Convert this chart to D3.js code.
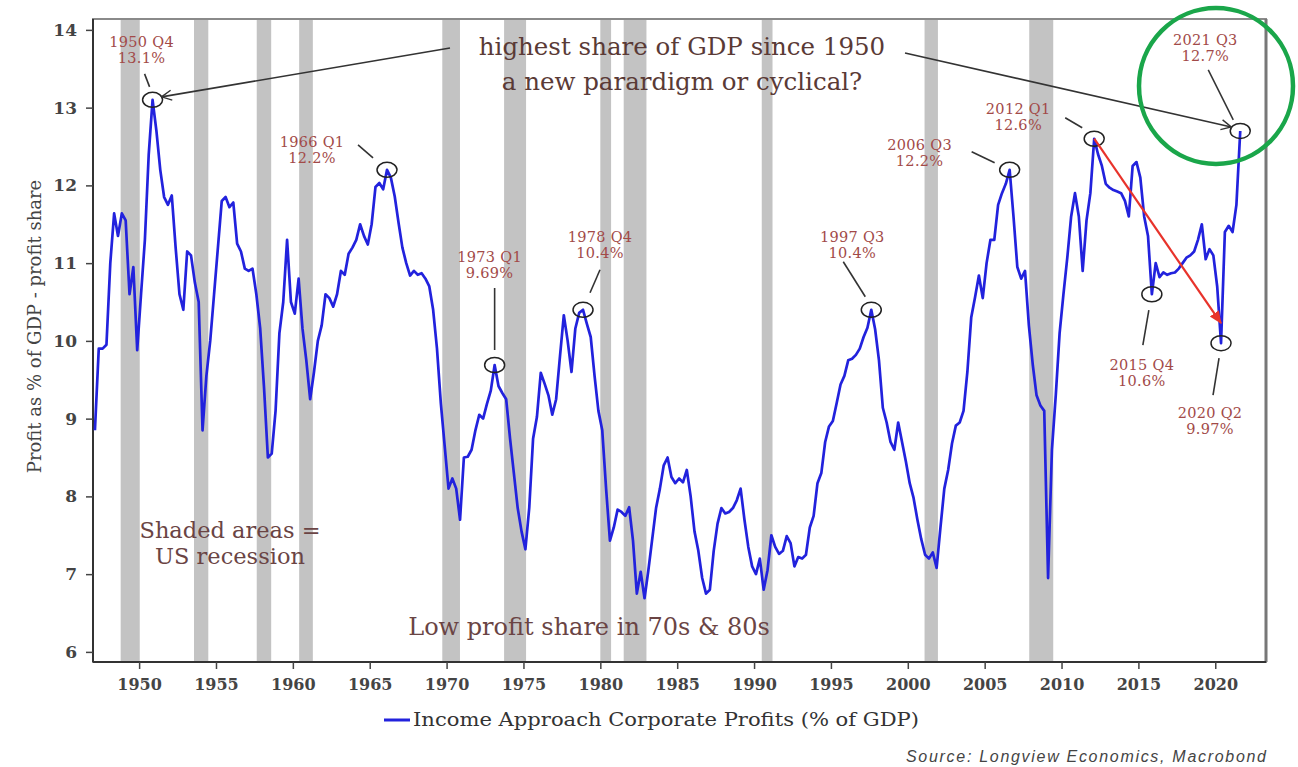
<!DOCTYPE html>
<html>
<head>
<meta charset="utf-8">
<script src="https://cdn.jsdelivr.net/npm/d3@7"></script>
<style>
  body { margin: 0; background: #fff; }
  svg { display: block; }
</style>
</head>
<body>
<svg id="chart" width="1298" height="767"></svg>
<script>
// Quarterly corporate profits (income approach) as % of GDP, from 1947 Q1
const startYear = 1947;
const profitShare = [
  8.85, 9.9, 9.9, 9.95,        // 1947
  11.0, 11.64, 11.35, 11.64,   // 1948
  11.55, 10.6, 10.95, 9.88,    // 1949
  10.6, 11.3, 12.4, 13.1,      // 1950
  12.7, 12.2, 11.85, 11.75,    // 1951
  11.87, 11.2, 10.6, 10.4,     // 1952
  11.15, 11.1, 10.75, 10.5,    // 1953
  8.85, 9.55, 10.0, 10.6,      // 1954
  11.2, 11.8, 11.85, 11.72,    // 1955
  11.78, 11.25, 11.15, 10.93,  // 1956
  10.9, 10.93, 10.6, 10.16,    // 1957
  9.4, 8.5, 8.55, 9.1,         // 1958
  10.1, 10.5, 11.3, 10.5,      // 1959
  10.35, 10.8, 10.16, 9.75,    // 1960
  9.25, 9.6, 10.0, 10.2,       // 1961
  10.6, 10.55, 10.44, 10.6,    // 1962
  10.9, 10.85, 11.12, 11.2,    // 1963
  11.3, 11.5, 11.35, 11.24,    // 1964
  11.5, 11.98, 12.03, 11.95,   // 1965
  12.2, 12.1, 11.86, 11.52,    // 1966
  11.2, 11.0, 10.84, 10.9,     // 1967
  10.85, 10.87, 10.8, 10.7,    // 1968
  10.4, 9.9, 9.2, 8.65,        // 1969
  8.1, 8.23, 8.1, 7.7,         // 1970
  8.5, 8.51, 8.6, 8.85,        // 1971
  9.05, 9.0, 9.19, 9.36,       // 1972
  9.69, 9.42, 9.33, 9.25,      // 1973
  8.75, 8.3, 7.85, 7.55,       // 1974
  7.32, 7.85, 8.74, 9.02,      // 1975
  9.59, 9.45, 9.3, 9.05,       // 1976
  9.25, 9.8, 10.33, 10.0,      // 1977
  9.6, 10.16, 10.36, 10.4,     // 1978
  10.22, 10.05, 9.55, 9.1,     // 1979
  8.85, 8.1, 7.43, 7.6,        // 1980
  7.83, 7.8, 7.75, 7.86,       // 1981
  7.43, 6.75, 7.03, 6.69,      // 1982
  7.05, 7.45, 7.85, 8.1,       // 1983
  8.4, 8.5, 8.25, 8.17,        // 1984
  8.23, 8.18, 8.34, 8.0,       // 1985
  7.55, 7.3, 6.95, 6.75,       // 1986
  6.8, 7.3, 7.65, 7.85,        // 1987
  7.78, 7.8, 7.85, 7.95,       // 1988
  8.1, 7.7, 7.35, 7.1,         // 1989
  7.0, 7.2, 6.8, 7.05,         // 1990
  7.5, 7.35, 7.26, 7.3,        // 1991
  7.49, 7.4, 7.1, 7.22,        // 1992
  7.2, 7.25, 7.6, 7.75,        // 1993
  8.17, 8.3, 8.7, 8.9,         // 1994
  8.97, 9.2, 9.44, 9.55,       // 1995
  9.75, 9.77, 9.82, 9.9,       // 1996
  10.05, 10.17, 10.4, 10.15,   // 1997
  9.75, 9.14, 8.95, 8.7,       // 1998
  8.6, 8.95, 8.7, 8.45,        // 1999
  8.17, 7.98, 7.7, 7.45,       // 2000
  7.25, 7.2, 7.28, 7.08,       // 2001
  7.6, 8.1, 8.34, 8.68,        // 2002
  8.91, 8.95, 9.1, 9.6,        // 2003
  10.3, 10.56, 10.84, 10.55,   // 2004
  11.0, 11.3, 11.3, 11.75,     // 2005
  11.9, 12.02, 12.2, 11.6,     // 2006
  10.95, 10.8, 10.9, 10.2,     // 2007
  9.7, 9.3, 9.17, 9.1,         // 2008
  6.95, 8.6, 9.3, 10.1,        // 2009
  10.6, 11.07, 11.6, 11.9,     // 2010
  11.6, 10.9, 11.55, 11.9,     // 2011
  12.6, 12.4, 12.25, 12.02,    // 2012
  11.97, 11.94, 11.92, 11.9,   // 2013
  11.8, 11.6, 12.25, 12.3,     // 2014
  12.1, 11.6, 11.35, 10.6,     // 2015
  11.0, 10.82, 10.88, 10.85,   // 2016
  10.87, 10.88, 10.93, 11.0,   // 2017
  11.07, 11.1, 11.15, 11.3,    // 2018
  11.5, 11.05, 11.18, 11.1,    // 2019
  10.7, 9.97, 11.4, 11.48,     // 2020
  11.4, 11.75, 12.7            // 2021
];

// US recessions (start, end) in fractional years
const recessions = [
  [1948.8, 1950.04], [1953.57, 1954.5], [1957.65, 1958.59], [1960.41, 1961.3],
  [1969.72, 1970.87], [1973.74, 1975.17], [1980.0, 1980.7], [1981.52, 1983.0],
  [1990.5, 1991.2], [2001.09, 2001.96], [2007.9, 2009.46]
];

const yTicks = [6, 7, 8, 9, 10, 11, 12, 13, 14];
const xTicks = [1950, 1955, 1960, 1965, 1970, 1975, 1980, 1985, 1990, 1995, 2000, 2005, 2010, 2015, 2020];

// Labelled turning points: [year, quarter, value label]
const callouts = [
  [1950, 4, "13.1%"],
  [1966, 1, "12.2%"],
  [1973, 1, "9.69%"],
  [1978, 4, "10.4%"],
  [1997, 3, "10.4%"],
  [2006, 3, "12.2%"],
  [2012, 1, "12.6%"],
  [2015, 4, "10.6%"],
  [2020, 2, "9.97%"],
  [2021, 3, "12.7%"]
];

const headline = ["highest share of GDP since 1950", "a new parardigm or cyclical?"];
const shadedNote = ["Shaded areas =", "US recession"];
const lowNote = "Low profit share in 70s & 80s";
const seriesName = "Income Approach Corporate Profits (% of GDP)";
const yTitle = "Profit as % of GDP - profit share";
const sourceNote = "Source: Longview Economics, Macrobond";

// ---- layout ----
const plot = { left: 93, right: 1266, top: 19, bottom: 662 };
const serif = "'DejaVu Serif', serif";
const noteColor = "#6a4444";
const calloutColor = "#a24a48";

const x = d3.scaleLinear().domain([1947, 2023.3]).range([plot.left, plot.right]);
const y = d3.scaleLinear().domain([5.87, 14.14]).range([plot.bottom, plot.top]);

const data = profitShare.map((v, i) => ({ t: startYear + i / 4 + 0.125, v }));
const pointFor = (yr, q) => data[(yr - startYear) * 4 + (q - 1)];

const svg = d3.select("#chart");

const defs = svg.append("defs");
defs.append("marker").attr("id", "openHead")
  .attr("viewBox", "0 0 12 12").attr("refX", 11).attr("refY", 6)
  .attr("markerWidth", 12).attr("markerHeight", 12).attr("markerUnits", "userSpaceOnUse")
  .attr("orient", "auto")
  .append("path").attr("d", "M1,1 L11,6 L1,11").attr("fill", "none")
  .attr("stroke", "#333").attr("stroke-width", 1.4);
defs.append("marker").attr("id", "redHead")
  .attr("viewBox", "0 0 12 12").attr("refX", 11).attr("refY", 6)
  .attr("markerWidth", 13).attr("markerHeight", 13).attr("markerUnits", "userSpaceOnUse")
  .attr("orient", "auto")
  .append("path").attr("d", "M0,1 L12,6 L0,11 Z").attr("fill", "#e8332b");

defs.append("clipPath").attr("id", "plotClip").append("rect")
  .attr("x", plot.left).attr("y", plot.top)
  .attr("width", plot.right - plot.left).attr("height", plot.bottom - plot.top);

// recession shading
svg.append("g").attr("clip-path", "url(#plotClip)")
  .selectAll("rect").data(recessions).join("rect")
  .attr("x", d => x(d[0])).attr("width", d => x(d[1]) - x(d[0]))
  .attr("y", plot.top).attr("height", plot.bottom - plot.top)
  .attr("fill", "#c3c3c3");

// frame
svg.append("rect")
  .attr("x", plot.left).attr("y", plot.top)
  .attr("width", plot.right - plot.left).attr("height", plot.bottom - plot.top)
  .attr("fill", "none").attr("stroke", "#8a8a8a").attr("stroke-width", 2);
svg.append("line").attr("x1", plot.right).attr("x2", plot.right)
  .attr("y1", plot.top).attr("y2", plot.bottom)
  .attr("stroke", "#777").attr("stroke-width", 3);

// axes
const yAxis = d3.axisLeft(y).tickValues(yTicks).tickSize(7).tickPadding(9).tickFormat(d3.format("d"));
const gy = svg.append("g").attr("transform", `translate(${plot.left},0)`).call(yAxis);
gy.select(".domain").attr("stroke", "#333").attr("stroke-width", 2)
  .attr("d", `M0,${plot.top}V${plot.bottom}`);
gy.selectAll(".tick line").attr("stroke", "#444").attr("stroke-width", 1.5);
gy.selectAll(".tick text").attr("font-family", serif).attr("font-size", 17)
  .attr("font-weight", "bold").attr("fill", "#444");

const xAxis = d3.axisBottom(x).tickValues(xTicks).tickSize(7).tickPadding(10).tickFormat(d3.format("d"));
const gx = svg.append("g").attr("transform", `translate(0,${plot.bottom})`).call(xAxis);
gx.select(".domain").attr("stroke", "#333").attr("stroke-width", 2)
  .attr("d", `M${plot.left},0H${plot.right}`);
gx.selectAll(".tick line").attr("stroke", "#444").attr("stroke-width", 1.5);
gx.selectAll(".tick text").attr("font-family", serif).attr("font-size", 16)
  .attr("font-weight", "bold").attr("fill", "#444");

// y axis title
svg.append("text")
  .attr("transform", `translate(41,${(plot.top + plot.bottom) / 2 - 14}) rotate(-90)`)
  .attr("text-anchor", "middle").attr("font-family", serif).attr("font-size", 18)
  .attr("fill", "#444").text(yTitle);

// series line
svg.append("path").datum(data)
  .attr("d", d3.line().x(d => x(d.t)).y(d => y(d.v)))
  .attr("fill", "none").attr("stroke", "#2222dd").attr("stroke-width", 2.7)
  .attr("stroke-linejoin", "round");

// text notes, one text element per line
const note = (lines, cx, y0, gap, size, color) => {
  lines.forEach((s, i) => svg.append("text").attr("text-anchor", "middle")
    .attr("font-family", serif).attr("font-size", size).attr("fill", color)
    .attr("x", cx).attr("y", y0 + i * gap).text(s));
};
note(headline, 682, 55, 35, 24.5, "#5a3a36");
note(shadedNote, 230, 538, 26, 22.5, noteColor);
note([lowNote], 589, 635, 0, 24, noteColor);

// callouts: label offset (dx, dy of first baseline) and leader line, relative to the point
const calloutLayout = [
  { dx: -11, dy: -53, l: [-8, -26, -3, -13] },
  { dx: -75, dy: -23, l: [-29, -25, -14, -12] },
  { dx: -5,  dy: -103, l: [0, -77, 0, -15] },
  { dx: 17,  dy: -68, l: [17, -40, 7, -17] },
  { dx: -19, dy: -68, l: [-28, -48, -6, -13] },
  { dx: -90, dy: -20, l: [-38, -18, -15, -7] },
  { dx: -76, dy: -25, l: [-29, -21, -12, -11] },
  { dx: -10, dy: 76,  l: [-3, 16, -9, 51] },
  { dx: -11, dy: 75,  l: [-2, 15, -8, 52] },
  { dx: -35, dy: -86, l: [-32, -61, -7, -11] }
];

const cg = svg.append("g");
callouts.forEach((c, i) => {
  const p = pointFor(c[0], c[1]);
  const px = x(p.t), py = y(p.v);
  const lay = calloutLayout[i];
  cg.append("ellipse").attr("cx", px).attr("cy", py).attr("rx", 10).attr("ry", 7.5)
    .attr("fill", "none").attr("stroke", "#222").attr("stroke-width", 1.5);
  cg.append("line")
    .attr("x1", px + lay.l[0]).attr("y1", py + lay.l[1])
    .attr("x2", px + lay.l[2]).attr("y2", py + lay.l[3])
    .attr("stroke", "#333").attr("stroke-width", 1.6);
  const t = cg.append("text").attr("text-anchor", "middle").attr("font-family", serif)
    .attr("font-size", 14.5).attr("letter-spacing", 0.3).attr("fill", calloutColor);
  t.append("tspan").attr("x", px + lay.dx).attr("y", py + lay.dy).text(`${c[0]} Q${c[1]}`);
  t.append("tspan").attr("x", px + lay.dx).attr("y", py + lay.dy + 16).text(c[2]);
});

// headline arrows to the 1950 Q4 and 2021 Q3 peaks
const pFirst = pointFor(1950, 4), pLast = pointFor(2021, 3);
svg.append("line")
  .attr("x1", 450).attr("y1", 48)
  .attr("x2", x(pFirst.t) + 9).attr("y2", y(pFirst.v) - 3)
  .attr("stroke", "#333").attr("stroke-width", 1.6).attr("marker-end", "url(#openHead)");
svg.append("line")
  .attr("x1", 905).attr("y1", 53)
  .attr("x2", x(pLast.t) - 9).attr("y2", y(pLast.v) - 4)
  .attr("stroke", "#333").attr("stroke-width", 1.6).attr("marker-end", "url(#openHead)");

// red arrow from the 2012 peak towards the 2020 trough
const pPeak = pointFor(2012, 1), pTrough = pointFor(2020, 2);
svg.append("line")
  .attr("x1", x(pPeak.t)).attr("y1", y(pPeak.v))
  .attr("x2", x(pTrough.t)).attr("y2", y(pTrough.v) - 20)
  .attr("stroke", "#e8332b").attr("stroke-width", 2.2).attr("marker-end", "url(#redHead)");

// highlight ring round the latest reading
svg.append("ellipse").attr("cx", 1216).attr("cy", 86).attr("rx", 77).attr("ry", 78)
  .attr("fill", "none").attr("stroke", "#1aa64a").attr("stroke-width", 4.5);

// legend
const lg = svg.append("g").attr("transform", "translate(384,720)");
lg.append("line").attr("x1", 0).attr("x2", 26).attr("y1", 0).attr("y2", 0)
  .attr("stroke", "#2222dd").attr("stroke-width", 3);
lg.append("text").attr("x", 29).attr("y", 6).attr("font-family", serif)
  .attr("font-size", 18).attr("fill", "#333")
  .attr("textLength", 506).attr("lengthAdjust", "spacingAndGlyphs").text(seriesName);

// source line
svg.append("text").attr("x", 1266).attr("y", 762).attr("text-anchor", "end")
  .attr("font-family", "'Liberation Sans', Arial, sans-serif").attr("font-style", "italic")
  .attr("font-size", 16).attr("fill", "#444")
  .attr("textLength", 360).attr("lengthAdjust", "spacing").text(sourceNote);
</script>
</body>
</html>
